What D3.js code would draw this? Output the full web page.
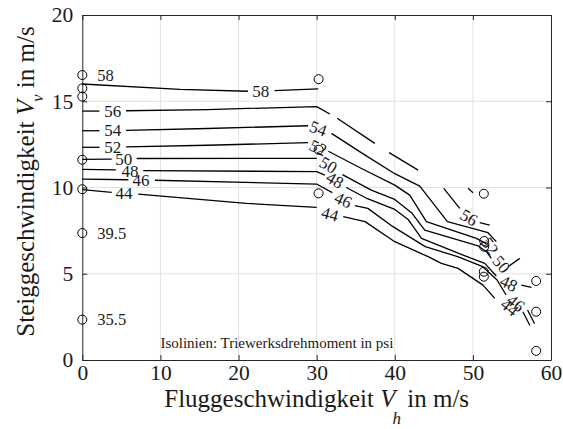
<!DOCTYPE html>
<html>
<head>
<meta charset="utf-8">
<script src="https://cdn.jsdelivr.net/npm/d3@7"></script>
<style>
  body { margin: 0; background: #fff; }
  text { font-family: "Liberation Serif", "Times New Roman", serif; fill: #1a1a1a; }
</style>
</head>
<body>
<svg id="chart" width="563" height="429"></svg>
<script>
// Axis ticks
const xTicks = [0, 10, 20, 30, 40, 50, 60];
const yTicks = [0, 5, 10, 15, 20];

// Measured operating points (Vh, Vv)
const pointVh = [0, 0, 0, 0, 0, 0, 0, 30.25, 30.25, 30.25, 51.4, 51.45, 51.45, 51.4, 51.4, 58.1, 58.1, 58.1];
const pointVv = [16.52, 15.75, 15.27, 11.61, 9.9, 7.36, 2.34, 16.28, 12.19, 9.66, 9.64, 6.9, 6.57, 5.12, 4.83, 4.58, 2.8, 0.53];

// Torque values written next to some points
const pointLabelText = ["58", "39.5", "35.5"];
const pointLabelVh = [0, 0, 0];
const pointLabelVv = [16.52, 7.36, 2.34];

// Isolines of engine torque (psi), each as a list of polyline pieces [Vh, Vv]
const levels = [58, 56, 54, 52, 50, 48, 46, 44];
const iso58 = [
  [[0, 16.0], [12.5, 15.69], [21.2, 15.58]],
  [[24.6, 15.62], [30.2, 15.72]]
];
const iso56 = [
  [[0, 14.43], [2.2, 14.43]],
  [[5.6, 14.45], [16, 14.52], [30, 14.69], [31.69, 14.26]],
  [[32.63, 14.01], [37.44, 12.56]],
  [[39.28, 12.02], [42.99, 11.01]],
  [[46.27, 9.95], [48.32, 8.79]],
  [[50.88, 7.96], [52.16, 7.82]],
  [[49.38, 9.95], [50.02, 9.7]]
];
const iso54 = [
  [[0, 13.29], [2.2, 13.29]],
  [[5.6, 13.31], [16, 13.42], [28.9, 13.58]],
  [[31.9, 13.14], [35.7, 12.02], [40, 10.8], [43.2, 10.08], [46.74, 8.02], [51.94, 7.38], [53.0, 6.86]]
];
const iso52 = [
  [[0, 12.33], [2.2, 12.33]],
  [[5.6, 12.35], [16, 12.45], [28.9, 12.6]],
  [[31.5, 12.1], [35.74, 11.1], [40, 10.14], [41.92, 9.56], [44.05, 8.02], [50.45, 7.05], [51.7, 6.75]]
];
const iso50 = [
  [[0, 11.63], [3.76, 11.65]],
  [[6.96, 11.68], [30, 11.69]],
  [[33.3, 10.75], [37, 9.85], [40, 9.31], [42.14, 8.54], [43.84, 7.53], [50.67, 6.61], [51.73, 6.28], [52.37, 5.89]],
  [[54.5, 5.41], [56.0, 5.89]]
];
const iso48 = [
  [[0, 11.05], [4.3, 11.02]],
  [[7.8, 10.98], [30, 10.92], [31.05, 10.72]],
  [[33.8, 10.0], [36.5, 9.35], [40, 8.73], [41.71, 8.15], [43.42, 7.05], [48.75, 6.08], [51.52, 5.6], [53, 4.87]],
  [[56.2, 4.34], [57.5, 4.21]]
];
const iso46 = [
  [[0, 10.49], [5.9, 10.45]],
  [[9.3, 10.42], [30, 10.2], [32.0, 9.7]],
  [[34.9, 8.95], [36.55, 8.79], [39.77, 7.73], [43.9, 6.57], [48.05, 5.99], [51.26, 5.41], [53.1, 4.64], [54.25, 3.77]]
];
const iso44 = [
  [[0, 9.88], [3.76, 9.72]],
  [[7.16, 9.62], [21, 9.08], [30, 8.85]],
  [[33.4, 8.31], [36.2, 8.02], [40, 6.86], [44.27, 5.99], [45.97, 5.6], [48.1, 5.31], [51.3, 4.34], [52.8, 3.57]],
  [[56.4, 2.8], [57.3, 2.0]],
  [[57.0, 2.9], [57.9, 2.1]]
];
const isoPieces = [iso58, iso56, iso54, iso52, iso50, iso48, iso46, iso44];

// Inline labels on the isolines
const isoLabelText  = ["58", "56", "54", "52", "50", "48", "46", "44",
                       "54", "52", "50", "48", "46", "44",
                       "56", "52", "50", "48", "46", "44"];
const isoLabelVh    = [22.85, 3.9, 3.9, 3.9, 5.3, 6.1, 7.5, 5.35,
                       30.2, 30.2, 31.5, 32.35, 33.4, 31.7,
                       49.5, 52.2, 53.65, 54.6, 55.5, 54.7];
const isoLabelVv    = [15.6, 14.42, 13.3, 12.33, 11.62, 10.97, 10.4, 9.65,
                       13.42, 12.3, 11.3, 10.43, 9.27, 8.45,
                       8.26, 6.6, 5.55, 4.44, 3.3, 3.05];
const isoLabelAngle = [0, 0, 0, 0, 0, 0, 0, 0,
                       20, 25, 30, 30, 25, 15,
                       30, 55, 50, 25, 40, 40];

const svg = d3.select("#chart");
const W = 563, H = 429;
const m = { left: 82.3, right: 12, top: 15, bottom: 69 };

const x = d3.scaleLinear().domain([0, 60]).range([m.left, W - m.right]);
const y = d3.scaleLinear().domain([0, 20]).range([H - m.bottom, m.top]);

// Grid
const grid = svg.append("g").attr("stroke", "#e2e2e2").attr("stroke-width", 1);
grid.selectAll("line.gx").data(xTicks.slice(1, -1)).join("line")
  .attr("x1", d => x(d)).attr("x2", d => x(d))
  .attr("y1", y(0)).attr("y2", y(20));
grid.selectAll("line.gy").data(yTicks.slice(1, -1)).join("line")
  .attr("y1", d => y(d)).attr("y2", d => y(d))
  .attr("x1", x(0)).attr("x2", x(60));

// Axes (box with inward ticks on all four sides)
function styleAxis(g) {
  g.attr("font-family", null);
  g.selectAll("path.domain").attr("stroke", "#262626").attr("stroke-width", 1);
  g.selectAll(".tick line").attr("stroke", "#262626");
  g.selectAll(".tick text").attr("fill", "#262626");
}
svg.append("g").attr("transform", `translate(0,${y(0)})`)
  .call(d3.axisBottom(x).tickValues(xTicks).tickSizeInner(-5).tickSizeOuter(0).tickPadding(5))
  .call(styleAxis)
  .selectAll(".tick text").attr("font-size", 21.5);
svg.append("g").attr("transform", `translate(0,${y(20)})`)
  .call(d3.axisTop(x).tickValues(xTicks).tickSizeInner(-5).tickSizeOuter(0).tickFormat(""))
  .call(styleAxis);
svg.append("g").attr("transform", `translate(${x(0)},0)`)
  .call(d3.axisLeft(y).tickValues(yTicks).tickSizeInner(-5).tickSizeOuter(0).tickPadding(9))
  .call(styleAxis)
  .selectAll(".tick text").attr("font-size", 21.5);
svg.append("g").attr("transform", `translate(${x(60)},0)`)
  .call(d3.axisRight(y).tickValues(yTicks).tickSizeInner(-5).tickSizeOuter(0).tickFormat(""))
  .call(styleAxis);

// Isolines
const line = d3.line().x(d => x(d[0])).y(d => y(d[1]));
const isoG = svg.append("g").attr("fill", "none").attr("stroke", "#000").attr("stroke-width", 1.3)
  .attr("stroke-linejoin", "round");
isoPieces.forEach((pieces, i) => {
  isoG.selectAll(null).data(pieces).join("path")
    .attr("class", "iso-" + levels[i])
    .attr("d", line);
});

// Isoline labels
svg.append("g").selectAll("text").data(isoLabelText).join("text")
  .attr("transform", (d, i) => `translate(${x(isoLabelVh[i])},${y(isoLabelVv[i])}) rotate(${isoLabelAngle[i]})`)
  .attr("text-anchor", "middle")
  .attr("dy", "0.34em")
  .attr("font-size", 17)
  .text(d => d);

// Measured points
svg.append("g").selectAll("circle").data(pointVh).join("circle")
  .attr("cx", d => x(d))
  .attr("cy", (d, i) => y(pointVv[i]))
  .attr("r", 4.5)
  .attr("fill", "none")
  .attr("stroke", "#000")
  .attr("stroke-width", 1);

// Point values
svg.append("g").selectAll("text").data(pointLabelText).join("text")
  .attr("x", (d, i) => x(pointLabelVh[i]) + 15)
  .attr("y", (d, i) => y(pointLabelVv[i]))
  .attr("dy", "0.34em")
  .attr("font-size", 16.5)
  .text(d => d);

// Annotation
svg.append("text")
  .attr("x", x(10.0))
  .attr("y", y(0.7))
  .attr("font-size", 15)
  .text("Isolinien: Triewerksdrehmoment in psi");

// Axis titles
const xt = svg.append("text")
  .attr("x", (x(0) + x(60)) / 2)
  .attr("y", 407)
  .attr("text-anchor", "middle")
  .attr("font-size", 25);
xt.append("tspan").text("Fluggeschwindigkeit ");
xt.append("tspan").attr("font-style", "italic").text("V");
xt.append("tspan").attr("font-size", 17).attr("font-style", "italic").attr("dx", -3).attr("dy", 17).text("h");
xt.append("tspan").attr("dy", -17).text(" in m/s");

const yt = svg.append("text")
  .attr("transform", `translate(34,${(y(0) + y(20)) / 2 - 6}) rotate(-90)`)
  .attr("text-anchor", "middle")
  .attr("font-size", 25);
yt.append("tspan").text("Steiggeschwindigkeit ");
yt.append("tspan").attr("font-style", "italic").text("V");
yt.append("tspan").attr("font-size", 17).attr("font-style", "italic").attr("dx", -2).attr("dy", 9).text("v");
yt.append("tspan").attr("dy", -9).text(" in m/s");
</script>
</body>
</html>
